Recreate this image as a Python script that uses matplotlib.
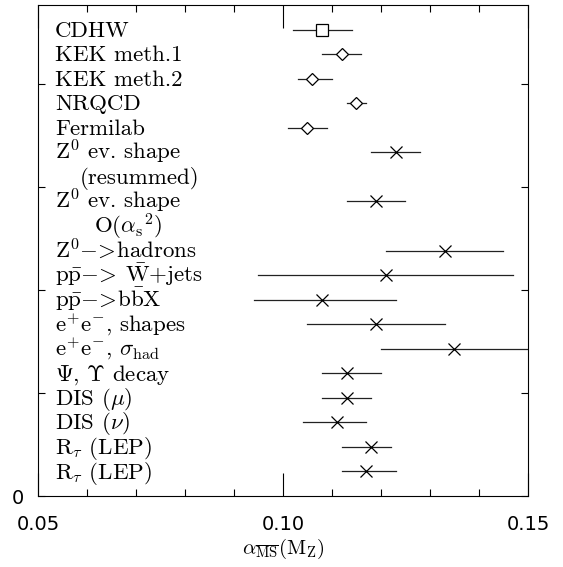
import matplotlib
matplotlib.use('Agg')
import matplotlib.pyplot as plt
import numpy as np

# measurements of alpha_s(M_Z), top to bottom
labels = ['CDHW', 'KEK meth.1', 'KEK meth.2', 'NRQCD', 'Fermilab',
          r'Z$^0$ ev. shape', r'Z$^0$ ev. shape', r'Z$^0$$-\!>\!$hadrons',
          r'p$\bar{\rm p}$$-\!>\!$ $\bar{\rm W}$+jets', r'p$\bar{\rm p}$$-\!>\!$b$\bar{\rm b}$X',
          r'e$^{+}$e$^{-}$, shapes', r'e$^{+}$e$^{-}$, $\sigma_{\rm had}$',
          r'$\Psi$, $\Upsilon$ decay', r'DIS ($\mu$)', r'DIS ($\nu$)',
          r'R$_\tau$ (LEP)', r'R$_\tau$ (LEP)']
rows = [19, 18, 17, 16, 15, 14, 12, 10, 9, 8, 7, 6, 5, 4, 3, 2, 1]
alpha = [0.108, 0.112, 0.106, 0.115, 0.105, 0.123, 0.119, 0.133, 0.121, 0.108,
         0.119, 0.135, 0.113, 0.113, 0.111, 0.118, 0.117]
err_lo = [0.006, 0.004, 0.003, 0.002, 0.004, 0.005, 0.006, 0.012, 0.026, 0.014,
          0.014, 0.015, 0.005, 0.005, 0.007, 0.006, 0.005]
err_hi = [0.006, 0.004, 0.004, 0.002, 0.004, 0.005, 0.006, 0.012, 0.026, 0.015,
          0.014, 0.020, 0.007, 0.005, 0.006, 0.004, 0.006]
markers = ['s', 'D', 'D', 'D', 'D'] + ['x'] * 12

# second lines of two-line labels
sub_labels = ['(resummed)', r'O($\alpha_{\rm s}{}^2$)']
sub_rows = [13, 11]
sub_x = [0.0585, 0.0615]

plt.rcParams['mathtext.fontset'] = 'cm'

fig = plt.figure(figsize=(5.63, 5.67), dpi=100)
ax = fig.add_axes([0.0675, 0.1252, 0.8703, 0.866])

for a, r, lo, hi, m in zip(alpha, rows, err_lo, err_hi, markers):
    ax.plot([a - lo, a + hi], [r, r], color='#222222', lw=0.9)
    ms = 8 if m == 's' else (6 if m == 'D' else 8)
    ax.plot([a], [r], marker=m, ms=ms, mfc='white' if m != 'x' else 'none',
            mec='black', mew=0.9, ls='none')

for lab, r in zip(labels, rows):
    ax.text(0.0535, r - 0.29, lab, family='cmr10', fontsize=16.5, va='baseline', ha='left')
for lab, r, x in zip(sub_labels, sub_rows, sub_x):
    ax.text(x, r - 0.29, lab, family='cmr10', fontsize=16.5, va='baseline', ha='left')

ax.set_xlim(0.05, 0.15)
ax.set_ylim(0, 20)

ax.set_xticks([0.05, 0.10, 0.15])
ax.set_xticklabels(['0.05', '0.10', '0.15'])
ax.set_xticks([0.06, 0.07, 0.08, 0.09, 0.11, 0.12, 0.13, 0.14], minor=True)
ax.set_yticks([0, 4.2, 8.4, 12.6, 16.8])
ax.set_yticklabels(['0', '', '', '', ''])

ax.tick_params(axis='x', which='major', direction='in', length=16.5, width=0.8,
               top=True, labelsize=14, pad=14)
ax.tick_params(axis='x', which='minor', direction='in', length=5, width=0.8, top=True)
ax.tick_params(axis='y', which='major', direction='in', length=5, width=0.8,
               right=True, labelsize=14, pad=10)
for s in ax.spines.values():
    s.set_linewidth(0.8)

ax.set_xlabel(r'$\alpha_{\overline{\rm MS}}({\rm M_Z})$', fontsize=15, labelpad=2)

fig.savefig('out.png', dpi=100)
